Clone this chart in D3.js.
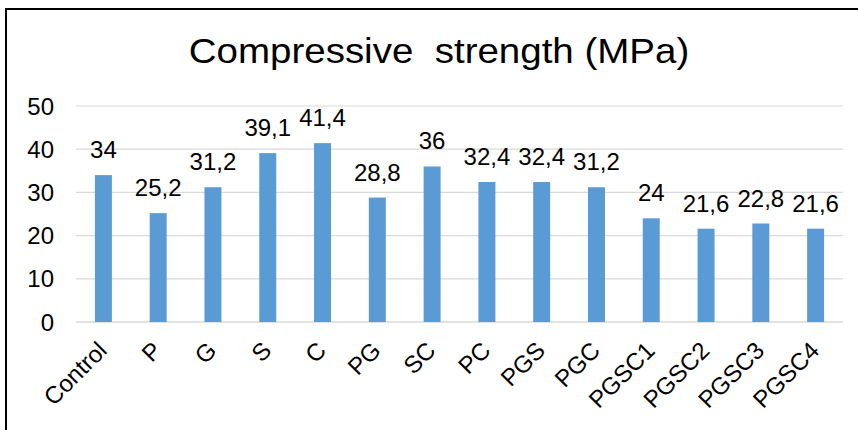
<!DOCTYPE html>
<html>
<head>
<meta charset="utf-8">
<script src="https://cdn.jsdelivr.net/npm/d3@7"></script>
<style>
  html, body { margin: 0; padding: 0; background: #fff; }
  svg { display: block; font-family: Arial, "Liberation Sans", sans-serif; }
</style>
</head>
<body>
<svg id="chart" width="858" height="430"></svg>
<script>
const categories = ["Control", "P", "G", "S", "C", "PG", "SC", "PC", "PGS", "PGC", "PGSC1", "PGSC2", "PGSC3", "PGSC4"];
const values = [34, 25.2, 31.2, 39.1, 41.4, 28.8, 36, 32.4, 32.4, 31.2, 24, 21.6, 22.8, 21.6];
const valueLabels = ["34", "25,2", "31,2", "39,1", "41,4", "28,8", "36", "32,4", "32,4", "31,2", "24", "21,6", "22,8", "21,6"];
const yTicks = [0, 10, 20, 30, 40, 50];
const title = "Compressive\u00a0\u00a0strength (MPa)";

const svg = d3.select("#chart");

// frame
svg.append("rect")
  .attr("x", 6).attr("y", 9).attr("width", 920).attr("height", 500)
  .attr("fill", "none").attr("stroke", "#000").attr("stroke-width", 2);

const x = d3.scaleBand().domain(categories).range([76, 843]).paddingInner(0.69).paddingOuter(0.345);
const y = d3.scaleLinear().domain([0, 50]).range([322, 106]);

// gridlines
svg.append("g").selectAll("line").data(yTicks).join("line")
  .attr("x1", 76).attr("x2", 843)
  .attr("y1", d => y(d)).attr("y2", d => y(d))
  .attr("stroke", "#d9d9d9").attr("stroke-width", d => d === 0 ? 1.5 : 1.2);

// y tick labels
svg.append("g").selectAll("text").data(yTicks).join("text")
  .attr("x", 54).attr("y", d => y(d))
  .attr("dy", "0.36em")
  .attr("text-anchor", "end")
  .attr("font-size", 24)
  .attr("fill", "#000")
  .text(d => d);

// bars
svg.append("g").selectAll("rect").data(values).join("rect")
  .attr("x", (d, i) => x(categories[i]))
  .attr("width", x.bandwidth())
  .attr("y", d => y(d))
  .attr("height", d => y(0) - y(d))
  .attr("fill", "#5b9bd5");

// value labels
svg.append("g").selectAll("text").data(values).join("text")
  .attr("x", (d, i) => x(categories[i]) + x.bandwidth() / 2)
  .attr("y", d => y(d) - 17)
  .attr("text-anchor", "middle")
  .attr("font-size", 24)
  .attr("fill", "#000")
  .text((d, i) => valueLabels[i]);

// category labels
svg.append("g").selectAll("text").data(categories).join("text")
  .attr("transform", d => `translate(${x(d) + x.bandwidth() / 2 + 5},${y(0) + 30}) rotate(-45)`)
  .attr("text-anchor", "end")
  .attr("font-size", 24)
  .attr("fill", "#000")
  .text(d => d);

// title
svg.append("text")
  .attr("transform", `translate(439,63) scale(1.1,1)`)
  .attr("text-anchor", "middle")
  .attr("font-size", 35)
  .attr("fill", "#000")
  .text(title);
</script>
</body>
</html>
